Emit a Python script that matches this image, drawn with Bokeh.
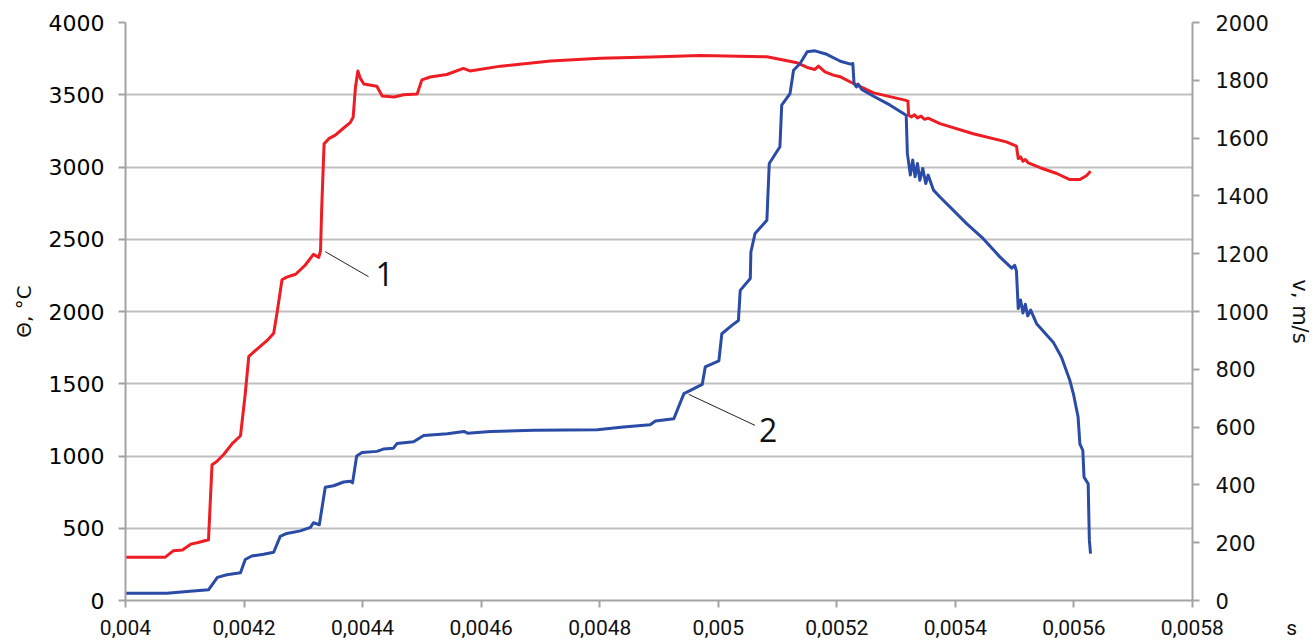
from bokeh.plotting import figure
from bokeh.models import LinearAxis, Range1d, FixedTicker, Label, CustomJSTickFormatter
from bokeh.embed import file_html
from bokeh.resources import INLINE

# ---------------- data ----------------
# curve 1: temperature, deg C (left axis)
t_temp = [0.004000, 0.004067, 0.004081, 0.004096, 0.004110, 0.004121, 0.004140, 0.004146,
          0.004154, 0.004166, 0.004180, 0.004194, 0.004202, 0.004208, 0.004222, 0.004239,
          0.004250, 0.004256, 0.004264, 0.004272, 0.004287, 0.004303, 0.004317, 0.004326,
          0.004329, 0.004331, 0.004335, 0.004343, 0.004354, 0.004368, 0.004379, 0.004384,
          0.004388, 0.004392, 0.004396, 0.004402, 0.004424, 0.004433, 0.004453, 0.004469,
          0.004492, 0.004500, 0.004514, 0.004542, 0.004570, 0.004581, 0.004633, 0.004717,
          0.004801, 0.004886, 0.004970, 0.005082, 0.005133, 0.005150, 0.005163, 0.005169,
          0.005180, 0.005194, 0.005206, 0.005228, 0.005262, 0.005315, 0.005320, 0.005321,
          0.005326, 0.005331, 0.005336, 0.005342, 0.005348, 0.005354, 0.005374, 0.005430,
          0.005486, 0.005503, 0.005506, 0.005510, 0.005514, 0.005518, 0.005523, 0.005543,
          0.005571, 0.005593, 0.005610, 0.005621, 0.005628]
temp = [300, 300, 345, 350, 390, 400, 420, 940,
        962, 1012, 1086, 1140, 1430, 1690, 1740, 1800,
        1850, 2000, 2220, 2238, 2258, 2320, 2395, 2375,
        2420, 2715, 3160, 3196, 3221, 3270, 3307, 3344,
        3554, 3665, 3615, 3574, 3559, 3492, 3485, 3500,
        3505, 3603, 3623, 3640, 3682, 3665, 3698, 3733,
        3753, 3762, 3772, 3763, 3721, 3689, 3675, 3698,
        3659, 3636, 3624, 3578, 3513, 3463, 3456, 3359,
        3347, 3362, 3340, 3352, 3330, 3338, 3300, 3230,
        3174, 3145, 3059, 3070, 3040, 3052, 3028, 2995,
        2955, 2913, 2913, 2940, 2970]

# curve 2: velocity, m/s (right axis)
t_vel = [0.004000, 0.004070, 0.004104, 0.004140, 0.004155, 0.004171, 0.004194, 0.004202,
         0.004213, 0.004233, 0.004250, 0.004261, 0.004272, 0.004295, 0.004312, 0.004317,
         0.004327, 0.004337, 0.004351, 0.004368, 0.004379, 0.004383, 0.004390, 0.004399,
         0.004424, 0.004435, 0.004452, 0.004458, 0.004486, 0.004503, 0.004543, 0.004571,
         0.004577, 0.004616, 0.004689, 0.004796, 0.004840, 0.004885, 0.004894, 0.004925,
         0.004942, 0.004953, 0.004973, 0.004978, 0.005001, 0.005006, 0.005023, 0.005034,
         0.005037, 0.005054, 0.005055, 0.005062, 0.005082, 0.005086, 0.005104, 0.005107,
         0.005121, 0.005127, 0.005138, 0.005150, 0.005163, 0.005183, 0.005206, 0.005223,
         0.005227, 0.005229, 0.005233, 0.005236, 0.005242, 0.005262, 0.005290, 0.005317,
         0.005319, 0.005324, 0.005328, 0.005332, 0.005336, 0.005340, 0.005345, 0.005350,
         0.005354, 0.005363, 0.005374, 0.005419, 0.005447, 0.005475, 0.005495, 0.005500,
         0.005503, 0.005506, 0.005510, 0.005514, 0.005518, 0.005522, 0.005527, 0.005537,
         0.005565, 0.005579, 0.005593, 0.005599, 0.005607, 0.005610, 0.005615, 0.005617,
         0.005624, 0.005626, 0.005628]
vel = [25, 25, 31, 37, 80, 89, 96, 142,
       154, 160, 167, 222, 232, 241, 253, 269,
       262, 392, 397, 410, 413, 407, 500, 512,
       516, 524, 527, 543, 549, 571, 577, 585,
       579, 585, 589, 591, 600, 608, 621, 629,
       716, 727, 748, 808, 829, 923, 952, 969,
       1073, 1114, 1206, 1270, 1316, 1512, 1570, 1714,
       1754, 1835, 1858, 1899, 1902, 1890, 1866, 1856,
       1858, 1789, 1777, 1787, 1768, 1745, 1714, 1679,
       1547, 1472, 1524, 1466, 1512, 1454, 1495, 1443,
       1472, 1420, 1396, 1304, 1252, 1189, 1150, 1160,
       1140, 1010, 1040, 995, 1025, 985, 1005, 958,
       894, 842, 762, 716, 635, 542, 519, 427,
       404, 208, 162]

x_ticks = [0.004, 0.0042, 0.0044, 0.0046, 0.0048, 0.005, 0.0052, 0.0054, 0.0056, 0.0058]
theta_ticks = [0, 500, 1000, 1500, 2000, 2500, 3000, 3500, 4000]
v_ticks = [0, 200, 400, 600, 800, 1000, 1200, 1400, 1600, 1800, 2000]

# callout annotations (time, temperature-axis units)
callout1_x = [0.004337, 0.004410]
callout1_y = [2414, 2241]
callout2_x = [0.004950, 0.005062]
callout2_y = [1427, 1212]

RED = "#EE1D23"
BLUE = "#2A4BA6"
GRID = "#C0C0C0"
AXIS = "#A3A3A3"

p = figure(width=1316, height=644, output_backend="svg", toolbar_location=None,
           x_range=Range1d(0.004, 0.0058), y_range=Range1d(0, 4000),
           min_border_left=125, min_border_right=124, min_border_top=22,
           min_border_bottom=44)
p.outline_line_color = None
p.background_fill_color = "white"
p.border_fill_color = "white"
p.extra_y_ranges = {"v": Range1d(0, 2000)}

# grid
p.xgrid.grid_line_color = None
p.ygrid.ticker = FixedTicker(ticks=theta_ticks)
p.ygrid.grid_line_color = GRID
p.ygrid.grid_line_width = 2

# x axis (the unit "s" sits at the right end of the tick-label row)
xa = p.xaxis[0]
xa.ticker = FixedTicker(ticks=x_ticks)
xa.formatter = CustomJSTickFormatter(code="""
var s = tick.toFixed(4).replace(/0+$/, '').replace('.', ',');
if (Math.abs(tick - 0.0058) < 1e-9) {
  var nb = '\\u00a0';
  return nb.repeat(14) + s + nb.repeat(12) + 's';
}
return s;
""")
xa.axis_line_color = AXIS
xa.axis_line_width = 2
xa.major_tick_line_color = AXIS
xa.major_tick_line_width = 2
xa.major_tick_out = 7
xa.major_tick_in = 0
xa.minor_tick_line_color = None
xa.major_label_text_font = "Liberation Sans Narrow, Roboto, sans-serif"
xa.major_label_text_font_size = "21px"
xa.major_label_text_color = "#111111"
xa.major_label_standoff = 8

# left axis
ya = p.left[0]
ya.ticker = FixedTicker(ticks=theta_ticks)
ya.axis_line_color = AXIS
ya.axis_line_width = 2
ya.major_tick_line_color = AXIS
ya.major_tick_line_width = 2
ya.major_tick_out = 7
ya.major_tick_in = 0
ya.minor_tick_line_color = None
ya.major_label_text_font = "DejaVu Sans"
ya.major_label_text_font_size = "22px"
ya.major_label_text_font_style = "normal"
ya.major_label_text_color = "#000000"
ya.major_label_standoff = 14
ya.axis_label = "Θ, °C"
ya.axis_label_text_font = "DejaVu Sans"
ya.axis_label_text_font_size = "20px"
ya.axis_label_text_font_style = "normal"
ya.axis_label_text_color = "#111111"
ya.axis_label_standoff = 10

# right axis
ya2 = LinearAxis(y_range_name="v", ticker=FixedTicker(ticks=v_ticks))
ya2.axis_line_color = AXIS
ya2.axis_line_width = 2
ya2.major_tick_line_color = AXIS
ya2.major_tick_line_width = 2
ya2.major_tick_out = 7
ya2.major_tick_in = 0
ya2.minor_tick_line_color = None
ya2.major_label_text_font = "DejaVu Sans"
ya2.major_label_text_font_size = "21px"
ya2.major_label_text_color = "#111111"
ya2.major_label_standoff = 16
ya2.axis_label = "v, m/s"
ya2.axis_label_text_font = "DejaVu Sans"
ya2.axis_label_text_font_size = "21px"
ya2.axis_label_text_font_style = "normal"
ya2.axis_label_text_color = "#111111"
ya2.axis_label_standoff = 16
p.add_layout(ya2, "right")

# curves
p.line(t_temp, temp, line_color=RED, line_width=3, line_join="round")
p.line(t_vel, vel, line_color=BLUE, line_width=3, line_join="round", y_range_name="v")

# callouts
p.line(callout1_x, callout1_y, line_color="#222222", line_width=1)
p.line(callout2_x, callout2_y, line_color="#222222", line_width=1)
p.add_layout(Label(x=0.004437, y=2262, text="1", text_font="Open Sans",
                   text_font_size="32px", text_color="#111111",
                   text_align="center", text_baseline="middle"))
p.add_layout(Label(x=0.005084, y=1177, text="2", text_font="Open Sans",
                   text_font_size="32px", text_color="#111111",
                   text_align="center", text_baseline="middle"))

open("out.html", "w").write(file_html(p, INLINE))
